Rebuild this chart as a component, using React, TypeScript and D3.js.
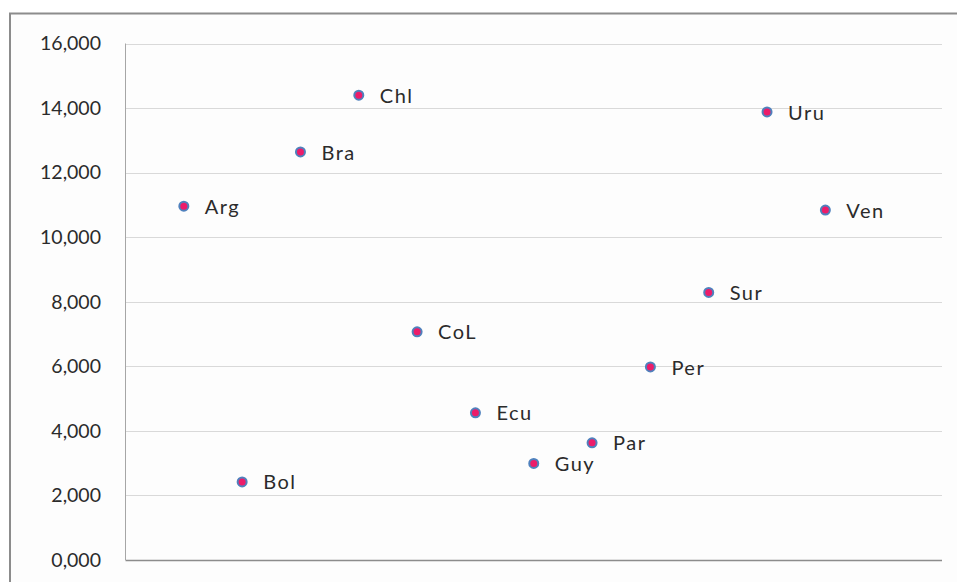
import React, { useEffect, useRef } from 'react';
import * as d3 from 'd3';

// category labels, in plotting order
const countries = ['Arg', 'Bol', 'Bra', 'Chl', 'CoL', 'Ecu', 'Guy', 'Par', 'Per', 'Sur', 'Uru', 'Ven'];
// values
const values = [10960, 2420, 12640, 14400, 7070, 4560, 2990, 3630, 5980, 8290, 13880, 10840];
const yTicks = [0, 2000, 4000, 6000, 8000, 10000, 12000, 14000, 16000];

const WIDTH = 957;
const HEIGHT = 582;
const FONT = 'Lato, "Open Sans", sans-serif';

const App: React.FC = () => {
  const svgRef = useRef<SVGSVGElement>(null);

  useEffect(() => {
    const svg = d3.select(svgRef.current);
    svg.selectAll('*').remove();

    const plot = { left: 125.5, right: 942, top: 43.5, bottom: 560 };

    const xScale = d3.scaleLinear().domain([0, countries.length + 2]).range([plot.left, plot.right]);
    const yScale = d3.scaleLinear().domain([0, 16000]).range([plot.bottom, plot.top]);

    const data = countries.map((c, i) => ({ name: c, x: i + 1, value: values[i] }));

    // background + outer frame
    svg.append('rect')
      .attr('x', 0).attr('y', 0)
      .attr('width', WIDTH).attr('height', HEIGHT)
      .attr('fill', '#ffffff');
    svg.append('rect')
      .attr('x', 10).attr('y', 13.5)
      .attr('width', WIDTH + 20).attr('height', HEIGHT + 20)
      .attr('fill', '#fdfdfd')
      .attr('stroke', '#8c8c8c')
      .attr('stroke-width', 2);

    // gridlines
    svg.append('g')
      .selectAll('line')
      .data(yTicks.filter(t => t > 0))
      .enter().append('line')
      .attr('x1', plot.left).attr('x2', plot.right)
      .attr('y1', d => Math.round(yScale(d)) + 0.5)
      .attr('y2', d => Math.round(yScale(d)) + 0.5)
      .attr('stroke', '#d9d9d9')
      .attr('stroke-width', 1);

    // axes
    svg.append('line')
      .attr('x1', plot.left).attr('x2', plot.left)
      .attr('y1', plot.top).attr('y2', plot.bottom)
      .attr('stroke', '#a6a6a6');
    svg.append('line')
      .attr('x1', plot.left).attr('x2', plot.right)
      .attr('y1', plot.bottom + 0.5).attr('y2', plot.bottom + 0.5)
      .attr('stroke', '#8c8c8c')
      .attr('stroke-width', 1.5);

    // y tick labels
    const fmt = d3.format(',');
    svg.append('g')
      .selectAll('text')
      .data(yTicks)
      .enter().append('text')
      .attr('x', 101)
      .attr('y', d => yScale(d))
      .attr('dy', '0.35em')
      .attr('text-anchor', 'end')
      .style('font-family', FONT)
      .style('font-size', '19.5px')
      .style('fill', '#2b2b2b')
      .text(d => `${fmt(d / 1000)},000`);

    // points
    svg.append('g')
      .selectAll('circle')
      .data(data)
      .enter().append('circle')
      .attr('cx', d => xScale(d.x))
      .attr('cy', d => yScale(d.value))
      .attr('r', 4.5)
      .attr('fill', '#ec1c6a')
      .attr('stroke', '#4f81bd')
      .attr('stroke-width', 2);

    // data labels
    svg.append('g')
      .selectAll('text')
      .data(data)
      .enter().append('text')
      .attr('x', d => xScale(d.x) + 21)
      .attr('y', d => yScale(d.value))
      .attr('dy', '0.38em')
      .style('font-family', FONT)
      .style('font-size', '20px')
      .style('letter-spacing', '1.5px')
      .style('fill', '#2b2b2b')
      .text(d => d.name);
  }, []);

  return (
    <div style={{ position: 'fixed', left: 0, top: 0, width: WIDTH, height: HEIGHT, overflow: 'hidden' }}>
      <svg ref={svgRef} width={WIDTH} height={HEIGHT}></svg>
    </div>
  );
};

export default App;
